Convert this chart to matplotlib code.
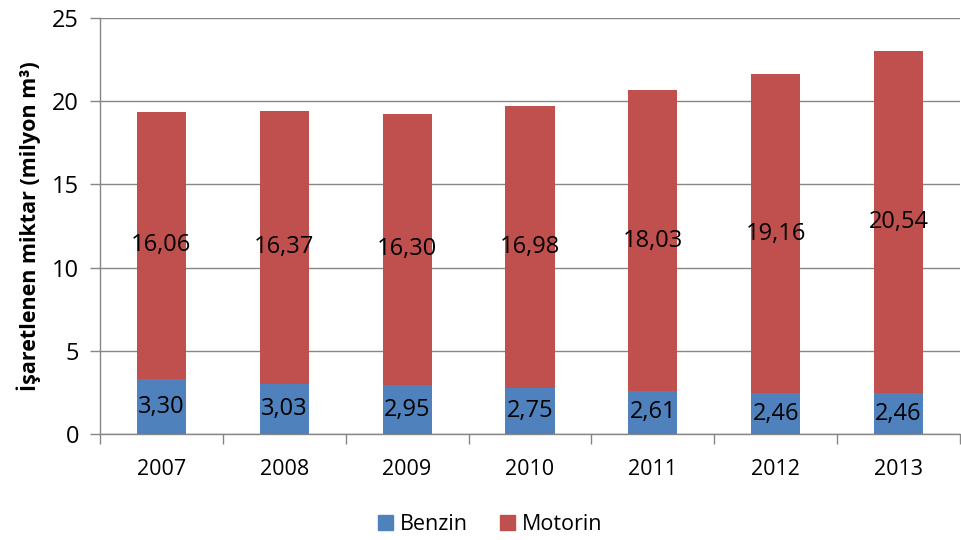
import matplotlib
matplotlib.use("Agg")
import matplotlib.pyplot as plt
import numpy as np
from matplotlib.patches import Patch

plt.rcParams['font.family'] = ['Open Sans', 'DejaVu Sans']

years = ["2007", "2008", "2009", "2010", "2011", "2012", "2013"]
benzin = [3.30, 3.03, 2.95, 2.75, 2.61, 2.46, 2.46]
motorin = [16.06, 16.37, 16.30, 16.98, 18.03, 19.16, 20.54]

blue = "#4F81BD"
red = "#C0504D"
grid_c = "#868686"

fig = plt.figure(figsize=(9.61, 5.40), dpi=100)
ax = fig.add_axes([0.104, 0.196, 0.895, 0.771])

x = np.arange(len(years))
w = 0.4
ax.bar(x, benzin, width=w, color=blue, zorder=3)
ax.bar(x, motorin, width=w, bottom=benzin, color=red, zorder=3)

def fmt(v):
    return f"{v:.2f}".replace(".", ",")

for xi, b, m in zip(x, benzin, motorin):
    ax.text(xi, b / 2, fmt(b), ha="center", va="center", fontsize=17, zorder=4)
    ax.text(xi, b + m / 2, fmt(m), ha="center", va="center", fontsize=17, zorder=4)

ax.set_xlim(-0.5, len(years) - 0.5)
ax.set_ylim(0, 25)
ax.set_yticks([0, 5, 10, 15, 20, 25])
ax.set_xticks(x)
ax.set_xticklabels(years, fontsize=15.5)
ax.set_xticks(np.arange(-0.5, len(years) + 0.5, 1), minor=True)
ax.tick_params(axis="x", which="major", length=0, pad=18)
ax.tick_params(axis="x", which="minor", length=7, color=grid_c, width=1)
ax.tick_params(axis="y", length=7, color=grid_c, width=1, labelsize=17, pad=8)

ax.yaxis.grid(True, color=grid_c, linewidth=1, zorder=0)
for s in ["top", "right"]:
    ax.spines[s].set_visible(False)
for s in ["left", "bottom"]:
    ax.spines[s].set_color(grid_c)
    ax.spines[s].set_linewidth(1)

ax.set_ylabel("İşaretlenen miktar (milyon m³)", fontsize=15.5, fontweight="bold", labelpad=8)

handles = [Patch(color=blue, label="Benzin"), Patch(color=red, label="Motorin")]
fig.legend(handles=handles, loc="center", bbox_to_anchor=(0.51, 0.028), ncol=2,
           frameon=False, fontsize=15.5, handlelength=0.7, handleheight=0.7,
           handletextpad=0.3, columnspacing=1.5)

fig.savefig("out.png", dpi=100)
